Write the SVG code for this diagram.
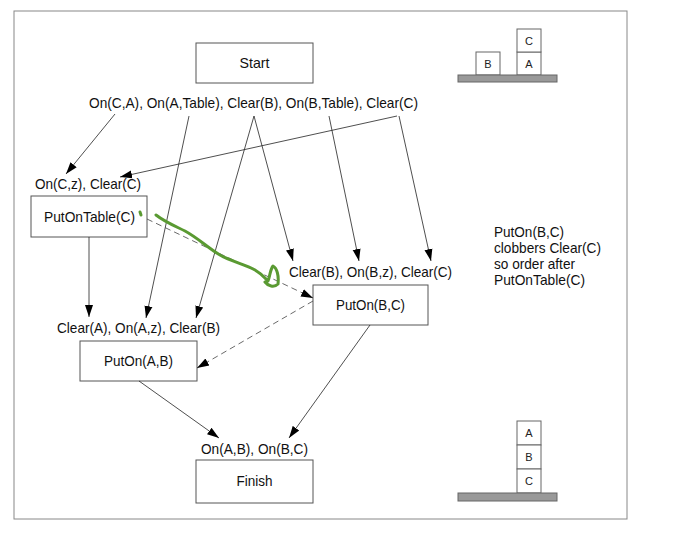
<svg xmlns="http://www.w3.org/2000/svg" width="684" height="536" viewBox="0 0 684 536">
<defs>
<marker id="ah" viewBox="0 0 12 10" refX="12" refY="5" markerWidth="12" markerHeight="10" markerUnits="userSpaceOnUse" orient="auto">
<path d="M0,1 L12,5 L0,9 Z" fill="#000"/>
</marker>
</defs>
<style>
.box{fill:#fff;stroke:#555;stroke-width:1}
.t{font-family:"Liberation Sans",Arial,sans-serif;font-size:14.5px;fill:#111}
.c{text-anchor:middle}
.ln{stroke:#222;stroke-width:0.8;fill:none;marker-end:url(#ah)}
.dl{stroke:#444;stroke-width:0.8;fill:none;stroke-dasharray:6,4;marker-end:url(#ah)}
.blk{fill:#fff;stroke:#666;stroke-width:1}
.bt{font-family:"Liberation Sans",Arial,sans-serif;font-size:11px;fill:#222;text-anchor:middle}
.tab{fill:#999;stroke:#666;stroke-width:1}
</style>
<rect width="684" height="536" fill="#fff"/>
<rect x="14" y="11" width="613" height="508" fill="none" stroke="#888" stroke-width="1"/>

<g id="start">
<rect class="box" x="196" y="43" width="117" height="40"/>
<text class="t c" x="254.5" y="68" textLength="30" lengthAdjust="spacingAndGlyphs">Start</text>
<text class="t" x="89" y="108" textLength="329" lengthAdjust="spacingAndGlyphs">On(C,A), On(A,Table), Clear(B), On(B,Table), Clear(C)</text>
</g>

<g id="putontablec">
<text class="t" x="35" y="189" textLength="106" lengthAdjust="spacingAndGlyphs">On(C,z), Clear(C)</text>
<rect class="box" x="31" y="196" width="116" height="41"/>
<text class="t" x="44" y="222" textLength="91" lengthAdjust="spacingAndGlyphs">PutOnTable(C)</text>
</g>

<g id="putonbc">
<text class="t" x="289" y="277" textLength="163" lengthAdjust="spacingAndGlyphs">Clear(B), On(B,z), Clear(C)</text>
<rect class="box" x="313" y="285" width="115" height="40"/>
<text class="t c" x="370.5" y="310" textLength="69" lengthAdjust="spacingAndGlyphs">PutOn(B,C)</text>
</g>

<g id="putonab">
<text class="t" x="57" y="333" textLength="163" lengthAdjust="spacingAndGlyphs">Clear(A), On(A,z), Clear(B)</text>
<rect class="box" x="80" y="341" width="117" height="40"/>
<text class="t c" x="138.5" y="366" textLength="69" lengthAdjust="spacingAndGlyphs">PutOn(A,B)</text>
</g>

<g id="finish">
<text class="t" x="201" y="454" textLength="107" lengthAdjust="spacingAndGlyphs">On(A,B), On(B,C)</text>
<rect class="box" x="196" y="460" width="117" height="43"/>
<text class="t c" x="254.5" y="486" textLength="36" lengthAdjust="spacingAndGlyphs">Finish</text>
</g>

<g id="note">
<text class="t" x="494" y="237" textLength="70" lengthAdjust="spacingAndGlyphs">PutOn(B,C)</text>
<text class="t" x="494" y="253" textLength="107" lengthAdjust="spacingAndGlyphs">clobbers Clear(C)</text>
<text class="t" x="494" y="269" textLength="81" lengthAdjust="spacingAndGlyphs">so order after</text>
<text class="t" x="494" y="285" textLength="91" lengthAdjust="spacingAndGlyphs">PutOnTable(C)</text>
</g>

<g id="initial-state">
<rect class="blk" x="476" y="52" width="24" height="23"/>
<text class="bt" x="488" y="68">B</text>
<rect class="blk" x="517" y="52" width="24" height="23"/>
<text class="bt" x="529" y="68">A</text>
<rect class="blk" x="517" y="29" width="24" height="23"/>
<text class="bt" x="529" y="45">C</text>
<rect class="tab" x="458" y="75" width="99" height="7"/>
</g>

<g id="goal-state">
<rect class="blk" x="517" y="421" width="24" height="24"/>
<text class="bt" x="529" y="437">A</text>
<rect class="blk" x="517" y="445" width="24" height="24"/>
<text class="bt" x="529" y="461">B</text>
<rect class="blk" x="517" y="469" width="24" height="24"/>
<text class="bt" x="529" y="485">C</text>
<rect class="tab" x="458" y="493" width="99" height="8"/>
</g>

<g id="connectors">
<line class="ln" x1="115" y1="114" x2="66" y2="174"/>
<line class="ln" x1="397" y1="116" x2="120" y2="177"/>
<line class="ln" x1="399" y1="116" x2="431" y2="261"/>
<line class="ln" x1="189" y1="116" x2="146" y2="318"/>
<line class="ln" x1="254" y1="116" x2="196" y2="318"/>
<line class="ln" x1="254" y1="116" x2="293" y2="261"/>
<line class="ln" x1="329" y1="116" x2="359" y2="261"/>
<line class="ln" x1="89" y1="237" x2="89" y2="317"/>
<line class="dl" x1="147" y1="219" x2="313" y2="298"/>
<line class="dl" x1="313" y1="301" x2="197" y2="368"/>
<line class="ln" x1="139" y1="381" x2="219" y2="438"/>
<line class="ln" x1="370" y1="325" x2="289" y2="438"/>
</g>

<g id="annotation" fill="none" stroke="#5a9a32" stroke-width="3" stroke-linecap="round" stroke-linejoin="round">
<path d="M156,215 C165,222 175,226 185,231 C198,238 208,248 220,255 C232,262 245,264 255,270 C262,274 266,279 268,281 C270,276 270,270 273,266 C277,268 279,276 278,284 C274,288 268,286 265,282"/>
<path d="M140,212 L141,215"/>
</g>
</svg>
